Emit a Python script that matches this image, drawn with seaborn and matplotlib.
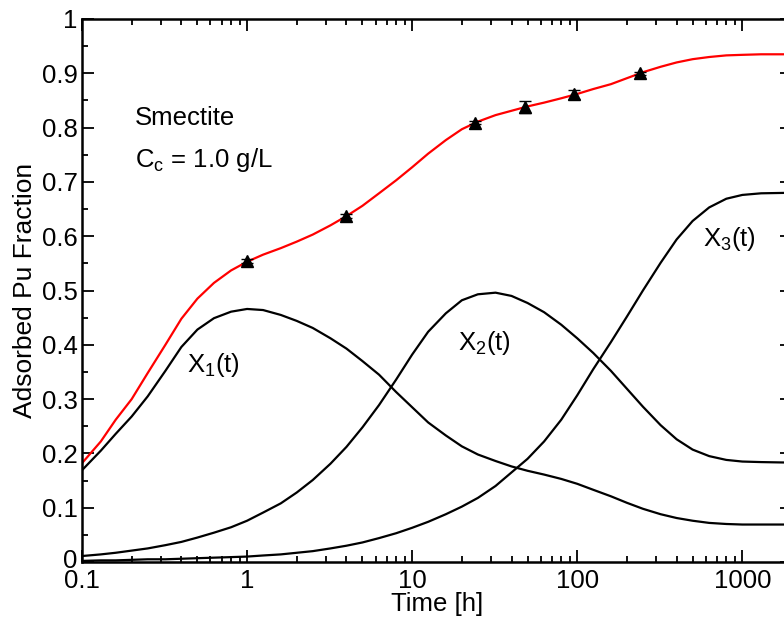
import matplotlib
matplotlib.use("Agg")
import matplotlib.pyplot as plt
import matplotlib.transforms as mtransforms
from matplotlib.ticker import FixedLocator, FixedFormatter, NullFormatter
import numpy as np
import pandas as pd
import seaborn as sns

# Time grid [h] and the three sorbed fractions plus their total
time_h = [0.1, 0.13, 0.16, 0.2, 0.25, 0.32, 0.4, 0.5, 0.63, 0.8,
          1.0, 1.25, 1.6, 2.0, 2.5, 3.2, 4.0, 5.0, 6.3, 8.0,
          10, 12.5, 16, 20, 25, 32, 40, 50, 63, 80,
          100, 125, 160, 200, 250, 320, 400, 500, 630, 800,
          1000, 1300, 2000]

x1_frac = [0.169, 0.205, 0.236, 0.268, 0.305, 0.352, 0.396, 0.428, 0.449, 0.461,
           0.466, 0.464, 0.455, 0.444, 0.431, 0.412, 0.393, 0.370, 0.345, 0.313,
           0.285, 0.257, 0.233, 0.213, 0.198, 0.186, 0.176, 0.168, 0.161, 0.153,
           0.144, 0.133, 0.121, 0.109, 0.098, 0.088, 0.081, 0.076, 0.072, 0.070,
           0.069, 0.069, 0.069]

x2_frac = [0.011, 0.014, 0.017, 0.021, 0.025, 0.031, 0.037, 0.045, 0.054, 0.064,
           0.076, 0.091, 0.108, 0.128, 0.151, 0.181, 0.212, 0.248, 0.289, 0.336,
           0.382, 0.424, 0.458, 0.482, 0.493, 0.496, 0.490, 0.477, 0.460, 0.437,
           0.412, 0.385, 0.352, 0.319, 0.286, 0.252, 0.226, 0.207, 0.195, 0.188,
           0.185, 0.184, 0.183]

x3_frac = [0.002, 0.003, 0.003, 0.004, 0.005, 0.005, 0.006, 0.007, 0.008, 0.009,
           0.010, 0.012, 0.014, 0.017, 0.020, 0.025, 0.030, 0.036, 0.044, 0.053,
           0.063, 0.074, 0.088, 0.102, 0.118, 0.140, 0.165, 0.190, 0.222, 0.262,
           0.307, 0.355, 0.405, 0.452, 0.500, 0.551, 0.594, 0.628, 0.653, 0.669,
           0.676, 0.679, 0.680]

total_frac = [0.182, 0.222, 0.262, 0.300, 0.348, 0.400, 0.448, 0.485, 0.514, 0.537,
              0.553, 0.566, 0.578, 0.590, 0.603, 0.620, 0.637, 0.656, 0.679, 0.703,
              0.727, 0.752, 0.777, 0.797, 0.811, 0.823, 0.831, 0.839, 0.846, 0.854,
              0.862, 0.871, 0.880, 0.891, 0.902, 0.912, 0.920, 0.926, 0.930, 0.933,
              0.934, 0.935, 0.935]

# Measured adsorbed fraction with uncertainty
meas_t = [1, 4, 24, 48, 96, 240]
meas_y = [0.554, 0.637, 0.809, 0.838, 0.861, 0.900]
meas_err = [0.004, 0.004, 0.003, 0.011, 0.008, 0.003]

component_names = ["X1", "X2", "X3"]
component_labels = [r"$\mathrm{X_1(t)}$", r"$\mathrm{X_2(t)}$", r"$\mathrm{X_3(t)}$"]
label_pos = [(0.43, 0.350), (18.9, 0.390), (574, 0.5825)]

x_ticks = [0.1, 1, 10, 100, 1000]
x_ticklabels = ["0.1", "1", "10", "100", "1000"]
y_ticks = [0, 0.1, 0.2, 0.3, 0.4, 0.5, 0.6, 0.7, 0.8, 0.9, 1.0]
y_ticklabels = ["0", "0.1", "0.2", "0.3", "0.4", "0.5", "0.6", "0.7", "0.8", "0.9", "1"]

sns.set_theme(style="ticks")
plt.rcParams["font.family"] = ["Liberation Sans", "DejaVu Sans"]
plt.rcParams["mathtext.fontset"] = "custom"
plt.rcParams["mathtext.rm"] = "Liberation Sans"
plt.rcParams["mathtext.it"] = "Liberation Sans:italic"
plt.rcParams["mathtext.bf"] = "Liberation Sans:bold"
for key in ["text.color", "axes.labelcolor", "xtick.color", "ytick.color",
            "axes.edgecolor"]:
    plt.rcParams[key] = "black"

FS = 18.5

fig = plt.figure(figsize=(7.84, 6.17), dpi=100)
ax = fig.add_axes([82 / 784, 55 / 617, 710 / 784, 543 / 617])
ax.set_xscale("log")

n = len(time_h)
df = pd.DataFrame({
    "t": time_h * 3,
    "frac": x1_frac + x2_frac + x3_frac,
    "comp": sum([[c] * n for c in component_names], []),
})

sns.lineplot(data=df, x="t", y="frac", units="comp", estimator=None,
             color="black", lw=1.6, sort=False, legend=False, ax=ax)
sns.lineplot(x=time_h, y=total_frac, color="red", lw=1.6, sort=False,
             legend=False, ax=ax)
ax.errorbar(meas_t, meas_y, yerr=meas_err, fmt="^", color="black",
            ms=8, capsize=4.5, elinewidth=1.0, capthick=1.0, zorder=5)

ax.set_xlim(0.1, 2000)
ax.set_ylim(0, 1)

ax.xaxis.set_major_locator(FixedLocator(x_ticks))
ax.xaxis.set_major_formatter(FixedFormatter(x_ticklabels))
minor_x = [m * 10.0 ** e for e in range(-1, 4) for m in range(2, 10)]
ax.xaxis.set_minor_locator(FixedLocator(minor_x))
ax.xaxis.set_minor_formatter(NullFormatter())
ax.yaxis.set_major_locator(FixedLocator(y_ticks))
ax.yaxis.set_major_formatter(FixedFormatter(y_ticklabels))
ax.yaxis.set_minor_locator(FixedLocator(np.arange(0.05, 1.0, 0.1)))

ax.tick_params(which="both", direction="in", top=True, right=True,
               width=1.3, colors="black", labelsize=FS)
ax.tick_params(which="major", length=8.6)
ax.tick_params(which="minor", length=4.3)
ax.tick_params(axis="x", which="major", pad=5)
ax.tick_params(axis="y", which="major", pad=3)

# lift the "0" label on the y axis a touch so it clears the "0.1" below it
zero_label = ax.yaxis.get_major_ticks()[0].label1
zero_label.set_transform(zero_label.get_transform() +
                         mtransforms.ScaledTranslation(0, 0.03, fig.dpi_scale_trans))

for sp in ax.spines.values():
    sp.set_linewidth(1.8)
    sp.set_color("black")

ax.set_xlabel("Time [h]", fontsize=FS, color="black")
ax.set_ylabel("Adsorbed Pu Fraction", fontsize=19, color="black")
ax.xaxis.set_label_coords(0.5, -0.056)
ax.yaxis.set_label_coords(-0.063, 0.5)

for lab, (tx, ty) in zip(component_labels, label_pos):
    ax.text(tx, ty, lab, fontsize=FS, ha="left", va="baseline", color="black")

ax.text(0.0746, 0.805, "Smectite", transform=ax.transAxes,
        fontsize=FS, ha="left", va="baseline", color="black")
ax.text(0.0746, 0.728, r"$\mathrm{C_c}$ = 1.0 g/L", transform=ax.transAxes,
        fontsize=FS, ha="left", va="baseline", color="black")

fig.savefig("out.png", dpi=100)
